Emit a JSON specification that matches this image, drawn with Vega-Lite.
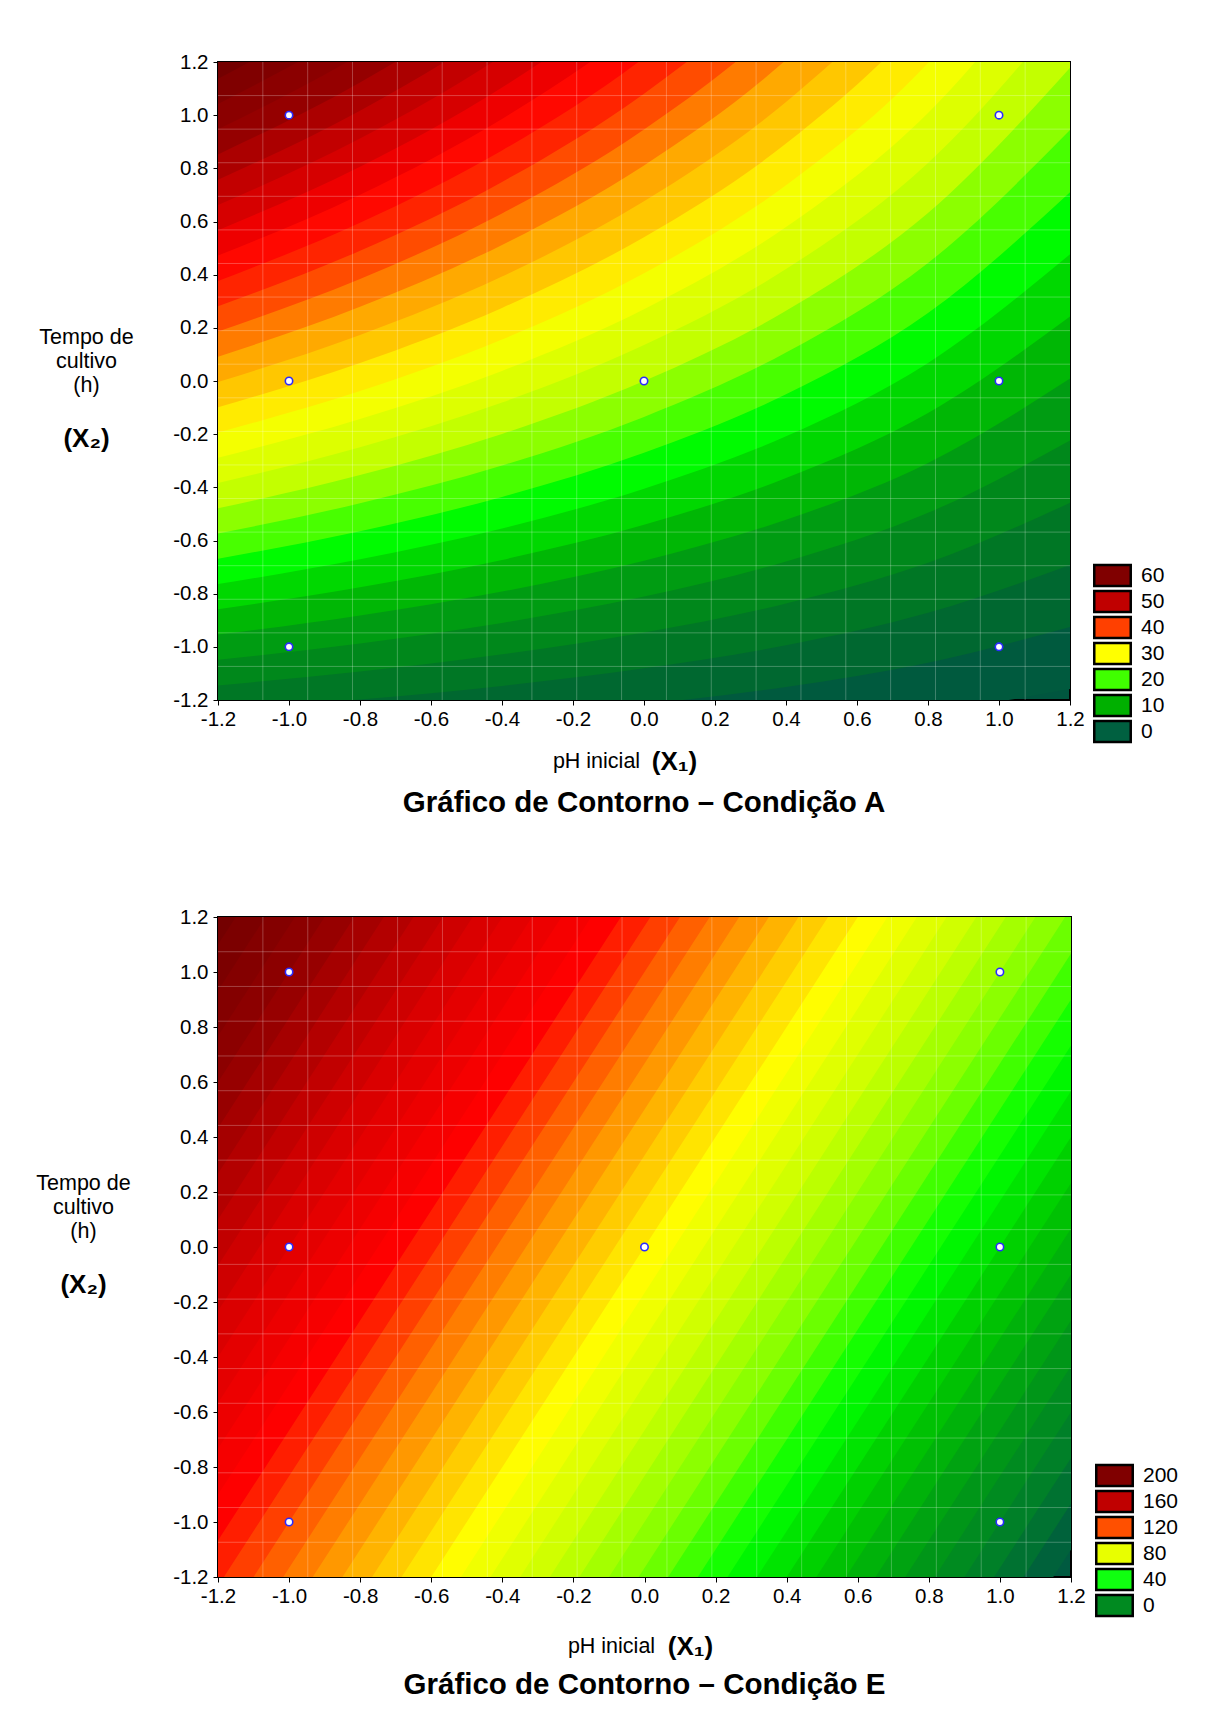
{
 "$schema": "https://vega.github.io/schema/vega-lite/v6.json",
 "background": "white",
 "padding": {"left": 34, "top": 51, "right": 5, "bottom": 5},
 "bounds": "flush",
 "spacing": 217,
 "resolve": {"scale": {"color": "independent", "fill": "independent"}, "legend": {"color": "independent", "fill": "independent"}},
 "config": {
  "font": "Liberation Sans",
  "view": {"stroke": "black", "strokeWidth": 2},
  "axis": {"labelFont": "Liberation Sans", "titleFont": "Liberation Sans", "labelColor": "black", "titleColor": "black", "tickColor": "black", "domain": false, "grid": false, "labelFlush": false, "labelOverlap": false}
 },
 "datasets": {
  "pts": [{"x1":-1,"x2":1},{"x1":1,"x2":1},{"x1":-1,"x2":0},{"x1":0,"x2":0},{"x1":1,"x2":0},{"x1":-1,"x2":-1},{"x1":1,"x2":-1}],
  "mesh": [{"m":-1.0737},{"m":-0.9474},{"m":-0.8211},{"m":-0.6947},{"m":-0.5684},{"m":-0.4421},{"m":-0.3158},{"m":-0.1895},{"m":-0.0632},{"m":0.0632},{"m":0.1895},{"m":0.3158},{"m":0.4421},{"m":0.5684},{"m":0.6947},{"m":0.8211},{"m":0.9474},{"m":1.0737}],
  "legA": [{"k":"60"},{"k":"50"},{"k":"40"},{"k":"30"},{"k":"20"},{"k":"10"},{"k":"0"}],
  "legE": [{"k":"200"},{"k":"160"},{"k":"120"},{"k":"80"},{"k":"40"},{"k":"0"}],
  "contA": [
   {"lev":-2.5,"x1":-1.2,"x2":-1.43},{"lev":-2.5,"x1":-0.8,"x2":-1.409},{"lev":-2.5,"x1":-0.4,"x2":-1.384},{"lev":-2.5,"x1":0,"x2":-1.351},{"lev":-2.5,"x1":0.4,"x2":-1.308},{"lev":-2.5,"x1":0.8,"x2":-1.248},{"lev":-2.5,"x1":1.2,"x2":-1.159},
   {"lev":0,"x1":-1.2,"x2":-1.335},{"lev":0,"x1":-0.8,"x2":-1.304},{"lev":0,"x1":-0.4,"x2":-1.265},{"lev":0,"x1":0,"x2":-1.216},{"lev":0,"x1":0.4,"x2":-1.151},{"lev":0,"x1":0.8,"x2":-1.06},{"lev":0,"x1":1.2,"x2":-0.925},
   {"lev":2.5,"x1":-1.2,"x2":-1.24},{"lev":2.5,"x1":-0.8,"x2":-1.198},{"lev":2.5,"x1":-0.4,"x2":-1.147},{"lev":2.5,"x1":0,"x2":-1.081},{"lev":2.5,"x1":0.4,"x2":-0.994},{"lev":2.5,"x1":0.8,"x2":-0.872},{"lev":2.5,"x1":1.2,"x2":-0.692},
   {"lev":5,"x1":-1.2,"x2":-1.145},{"lev":5,"x1":-0.8,"x2":-1.093},{"lev":5,"x1":-0.4,"x2":-1.028},{"lev":5,"x1":0,"x2":-0.946},{"lev":5,"x1":0.4,"x2":-0.837},{"lev":5,"x1":0.8,"x2":-0.684},{"lev":5,"x1":1.2,"x2":-0.458},
   {"lev":7.5,"x1":-1.2,"x2":-1.049},{"lev":7.5,"x1":-0.8,"x2":-0.987},{"lev":7.5,"x1":-0.4,"x2":-0.91},{"lev":7.5,"x1":0,"x2":-0.811},{"lev":7.5,"x1":0.4,"x2":-0.679},{"lev":7.5,"x1":0.8,"x2":-0.496},{"lev":7.5,"x1":1.2,"x2":-0.224},
   {"lev":10,"x1":-1.2,"x2":-0.954},{"lev":10,"x1":-0.8,"x2":-0.882},{"lev":10,"x1":-0.4,"x2":-0.792},{"lev":10,"x1":0,"x2":-0.676},{"lev":10,"x1":0.4,"x2":-0.522},{"lev":10,"x1":0.8,"x2":-0.308},{"lev":10,"x1":1.2,"x2":0.009},
   {"lev":12.5,"x1":-1.2,"x2":-0.859},{"lev":12.5,"x1":-0.8,"x2":-0.776},{"lev":12.5,"x1":-0.4,"x2":-0.673},{"lev":12.5,"x1":0,"x2":-0.541},{"lev":12.5,"x1":0.4,"x2":-0.365},{"lev":12.5,"x1":0.8,"x2":-0.12},{"lev":12.5,"x1":1.2,"x2":0.243},
   {"lev":15,"x1":-1.2,"x2":-0.764},{"lev":15,"x1":-0.8,"x2":-0.671},{"lev":15,"x1":-0.4,"x2":-0.555},{"lev":15,"x1":0,"x2":-0.405},{"lev":15,"x1":0.4,"x2":-0.208},{"lev":15,"x1":0.8,"x2":0.068},{"lev":15,"x1":1.2,"x2":0.477},
   {"lev":17.5,"x1":-1.2,"x2":-0.669},{"lev":17.5,"x1":-0.8,"x2":-0.565},{"lev":17.5,"x1":-0.4,"x2":-0.436},{"lev":17.5,"x1":0,"x2":-0.27},{"lev":17.5,"x1":0.4,"x2":-0.05},{"lev":17.5,"x1":0.8,"x2":0.256},{"lev":17.5,"x1":1.2,"x2":0.71},
   {"lev":20,"x1":-1.2,"x2":-0.574},{"lev":20,"x1":-0.8,"x2":-0.46},{"lev":20,"x1":-0.4,"x2":-0.318},{"lev":20,"x1":0,"x2":-0.135},{"lev":20,"x1":0.4,"x2":0.107},{"lev":20,"x1":0.8,"x2":0.444},{"lev":20,"x1":1.2,"x2":0.944},
   {"lev":22.5,"x1":-1.2,"x2":-0.479},{"lev":22.5,"x1":-0.8,"x2":-0.354},{"lev":22.5,"x1":-0.4,"x2":-0.199},{"lev":22.5,"x1":0,"x2":0},{"lev":22.5,"x1":0.4,"x2":0.264},{"lev":22.5,"x1":0.8,"x2":0.632},{"lev":22.5,"x1":1.2,"x2":1.178},
   {"lev":25,"x1":-1.2,"x2":-0.384},{"lev":25,"x1":-0.8,"x2":-0.249},{"lev":25,"x1":-0.4,"x2":-0.081},{"lev":25,"x1":0,"x2":0.135},{"lev":25,"x1":0.4,"x2":0.421},{"lev":25,"x1":0.8,"x2":0.82},{"lev":25,"x1":1.2,"x2":1.411},
   {"lev":27.5,"x1":-1.2,"x2":-0.289},{"lev":27.5,"x1":-0.8,"x2":-0.143},{"lev":27.5,"x1":-0.4,"x2":0.038},{"lev":27.5,"x1":0,"x2":0.27},{"lev":27.5,"x1":0.4,"x2":0.579},{"lev":27.5,"x1":0.8,"x2":1.008},{"lev":27.5,"x1":1.2,"x2":1.645},
   {"lev":30,"x1":-1.2,"x2":-0.194},{"lev":30,"x1":-0.8,"x2":-0.038},{"lev":30,"x1":-0.4,"x2":0.156},{"lev":30,"x1":0,"x2":0.405},{"lev":30,"x1":0.4,"x2":0.736},{"lev":30,"x1":0.8,"x2":1.196},{"lev":30,"x1":1.2,"x2":1.879},
   {"lev":32.5,"x1":-1.2,"x2":-0.099},{"lev":32.5,"x1":-0.8,"x2":0.068},{"lev":32.5,"x1":-0.4,"x2":0.275},{"lev":32.5,"x1":0,"x2":0.541},{"lev":32.5,"x1":0.4,"x2":0.893},{"lev":32.5,"x1":0.8,"x2":1.384},{"lev":32.5,"x1":1.2,"x2":2.112},
   {"lev":35,"x1":-1.2,"x2":-0.004},{"lev":35,"x1":-0.8,"x2":0.173},{"lev":35,"x1":-0.4,"x2":0.393},{"lev":35,"x1":0,"x2":0.676},{"lev":35,"x1":0.4,"x2":1.05},{"lev":35,"x1":0.8,"x2":1.571},{"lev":35,"x1":1.2,"x2":2.346},
   {"lev":37.5,"x1":-1.2,"x2":0.091},{"lev":37.5,"x1":-0.8,"x2":0.279},{"lev":37.5,"x1":-0.4,"x2":0.512},{"lev":37.5,"x1":0,"x2":0.811},{"lev":37.5,"x1":0.4,"x2":1.208},{"lev":37.5,"x1":0.8,"x2":1.759},{"lev":37.5,"x1":1.2,"x2":2.579},
   {"lev":40,"x1":-1.2,"x2":0.186},{"lev":40,"x1":-0.8,"x2":0.384},{"lev":40,"x1":-0.4,"x2":0.63},{"lev":40,"x1":0,"x2":0.946},{"lev":40,"x1":0.4,"x2":1.365},{"lev":40,"x1":0.8,"x2":1.947},{"lev":40,"x1":1.2,"x2":2.813},
   {"lev":42.5,"x1":-1.2,"x2":0.281},{"lev":42.5,"x1":-0.8,"x2":0.49},{"lev":42.5,"x1":-0.4,"x2":0.749},{"lev":42.5,"x1":0,"x2":1.081},{"lev":42.5,"x1":0.4,"x2":1.522},{"lev":42.5,"x1":0.8,"x2":2.135},{"lev":42.5,"x1":1.2,"x2":3.047},
   {"lev":45,"x1":-1.2,"x2":0.376},{"lev":45,"x1":-0.8,"x2":0.595},{"lev":45,"x1":-0.4,"x2":0.867},{"lev":45,"x1":0,"x2":1.216},{"lev":45,"x1":0.4,"x2":1.679},{"lev":45,"x1":0.8,"x2":2.323},{"lev":45,"x1":1.2,"x2":3.28},
   {"lev":47.5,"x1":-1.2,"x2":0.472},{"lev":47.5,"x1":-0.8,"x2":0.701},{"lev":47.5,"x1":-0.4,"x2":0.986},{"lev":47.5,"x1":0,"x2":1.351},{"lev":47.5,"x1":0.4,"x2":1.837},{"lev":47.5,"x1":0.8,"x2":2.511},{"lev":47.5,"x1":1.2,"x2":3.514},
   {"lev":50,"x1":-1.2,"x2":0.567},{"lev":50,"x1":-0.8,"x2":0.806},{"lev":50,"x1":-0.4,"x2":1.104},{"lev":50,"x1":0,"x2":1.486},{"lev":50,"x1":0.4,"x2":1.994},{"lev":50,"x1":0.8,"x2":2.699},{"lev":50,"x1":1.2,"x2":3.748},
   {"lev":52.5,"x1":-1.2,"x2":0.662},{"lev":52.5,"x1":-0.8,"x2":0.912},{"lev":52.5,"x1":-0.4,"x2":1.223},{"lev":52.5,"x1":0,"x2":1.622},{"lev":52.5,"x1":0.4,"x2":2.151},{"lev":52.5,"x1":0.8,"x2":2.887},{"lev":52.5,"x1":1.2,"x2":3.981},
   {"lev":55,"x1":-1.2,"x2":0.757},{"lev":55,"x1":-0.8,"x2":1.017},{"lev":55,"x1":-0.4,"x2":1.341},{"lev":55,"x1":0,"x2":1.757},{"lev":55,"x1":0.4,"x2":2.308},{"lev":55,"x1":0.8,"x2":3.075},{"lev":55,"x1":1.2,"x2":4.215},
   {"lev":57.5,"x1":-1.2,"x2":0.852},{"lev":57.5,"x1":-0.8,"x2":1.123},{"lev":57.5,"x1":-0.4,"x2":1.46},{"lev":57.5,"x1":0,"x2":1.892},{"lev":57.5,"x1":0.4,"x2":2.465},{"lev":57.5,"x1":0.8,"x2":3.263},{"lev":57.5,"x1":1.2,"x2":4.449},
   {"lev":60,"x1":-1.2,"x2":0.947},{"lev":60,"x1":-0.8,"x2":1.228},{"lev":60,"x1":-0.4,"x2":1.578},{"lev":60,"x1":0,"x2":2.027},{"lev":60,"x1":0.4,"x2":2.623},{"lev":60,"x1":0.8,"x2":3.451},{"lev":60,"x1":1.2,"x2":4.682},
   {"lev":62.5,"x1":-1.2,"x2":1.042},{"lev":62.5,"x1":-0.8,"x2":1.334},{"lev":62.5,"x1":-0.4,"x2":1.697},{"lev":62.5,"x1":0,"x2":2.162},{"lev":62.5,"x1":0.4,"x2":2.78},{"lev":62.5,"x1":0.8,"x2":3.639},{"lev":62.5,"x1":1.2,"x2":4.916},
   {"lev":65,"x1":-1.2,"x2":1.137},{"lev":65,"x1":-0.8,"x2":1.439},{"lev":65,"x1":-0.4,"x2":1.815},{"lev":65,"x1":0,"x2":2.297},{"lev":65,"x1":0.4,"x2":2.937},{"lev":65,"x1":0.8,"x2":3.827},{"lev":65,"x1":1.2,"x2":5.15}
  ],
  "contE": [
   {"lev":-10,"x1":-1.2,"x2":-5.9},{"lev":-10,"x1":1.2,"x2":-1.1},
   {"lev":-5,"x1":-1.2,"x2":-5.733},{"lev":-5,"x1":1.2,"x2":-0.933},
   {"lev":0,"x1":-1.2,"x2":-5.567},{"lev":0,"x1":1.2,"x2":-0.767},
   {"lev":5,"x1":-1.2,"x2":-5.4},{"lev":5,"x1":1.2,"x2":-0.6},
   {"lev":10,"x1":-1.2,"x2":-5.233},{"lev":10,"x1":1.2,"x2":-0.433},
   {"lev":15,"x1":-1.2,"x2":-5.067},{"lev":15,"x1":1.2,"x2":-0.267},
   {"lev":20,"x1":-1.2,"x2":-4.9},{"lev":20,"x1":1.2,"x2":-0.1},
   {"lev":25,"x1":-1.2,"x2":-4.733},{"lev":25,"x1":1.2,"x2":0.067},
   {"lev":30,"x1":-1.2,"x2":-4.567},{"lev":30,"x1":1.2,"x2":0.233},
   {"lev":35,"x1":-1.2,"x2":-4.4},{"lev":35,"x1":1.2,"x2":0.4},
   {"lev":40,"x1":-1.2,"x2":-4.233},{"lev":40,"x1":1.2,"x2":0.567},
   {"lev":45,"x1":-1.2,"x2":-4.067},{"lev":45,"x1":1.2,"x2":0.733},
   {"lev":50,"x1":-1.2,"x2":-3.9},{"lev":50,"x1":1.2,"x2":0.9},
   {"lev":55,"x1":-1.2,"x2":-3.733},{"lev":55,"x1":1.2,"x2":1.067},
   {"lev":60,"x1":-1.2,"x2":-3.567},{"lev":60,"x1":1.2,"x2":1.233},
   {"lev":65,"x1":-1.2,"x2":-3.4},{"lev":65,"x1":1.2,"x2":1.4},
   {"lev":70,"x1":-1.2,"x2":-3.233},{"lev":70,"x1":1.2,"x2":1.567},
   {"lev":75,"x1":-1.2,"x2":-3.067},{"lev":75,"x1":1.2,"x2":1.733},
   {"lev":80,"x1":-1.2,"x2":-2.9},{"lev":80,"x1":1.2,"x2":1.9},
   {"lev":85,"x1":-1.2,"x2":-2.733},{"lev":85,"x1":1.2,"x2":2.067},
   {"lev":90,"x1":-1.2,"x2":-2.567},{"lev":90,"x1":1.2,"x2":2.233},
   {"lev":95,"x1":-1.2,"x2":-2.4},{"lev":95,"x1":1.2,"x2":2.4},
   {"lev":100,"x1":-1.2,"x2":-2.233},{"lev":100,"x1":1.2,"x2":2.567},
   {"lev":105,"x1":-1.2,"x2":-2.067},{"lev":105,"x1":1.2,"x2":2.733},
   {"lev":110,"x1":-1.2,"x2":-1.9},{"lev":110,"x1":1.2,"x2":2.9},
   {"lev":115,"x1":-1.2,"x2":-1.733},{"lev":115,"x1":1.2,"x2":3.067},
   {"lev":120,"x1":-1.2,"x2":-1.567},{"lev":120,"x1":1.2,"x2":3.233},
   {"lev":125,"x1":-1.2,"x2":-1.4},{"lev":125,"x1":1.2,"x2":3.4},
   {"lev":130,"x1":-1.2,"x2":-1.233},{"lev":130,"x1":1.2,"x2":3.567},
   {"lev":135,"x1":-1.2,"x2":-1.067},{"lev":135,"x1":1.2,"x2":3.733},
   {"lev":140,"x1":-1.2,"x2":-0.9},{"lev":140,"x1":1.2,"x2":3.9},
   {"lev":145,"x1":-1.2,"x2":-0.733},{"lev":145,"x1":1.2,"x2":4.067},
   {"lev":150,"x1":-1.2,"x2":-0.567},{"lev":150,"x1":1.2,"x2":4.233},
   {"lev":155,"x1":-1.2,"x2":-0.4},{"lev":155,"x1":1.2,"x2":4.4},
   {"lev":160,"x1":-1.2,"x2":-0.233},{"lev":160,"x1":1.2,"x2":4.567},
   {"lev":165,"x1":-1.2,"x2":-0.067},{"lev":165,"x1":1.2,"x2":4.733},
   {"lev":170,"x1":-1.2,"x2":0.1},{"lev":170,"x1":1.2,"x2":4.9},
   {"lev":175,"x1":-1.2,"x2":0.267},{"lev":175,"x1":1.2,"x2":5.067},
   {"lev":180,"x1":-1.2,"x2":0.433},{"lev":180,"x1":1.2,"x2":5.233},
   {"lev":185,"x1":-1.2,"x2":0.6},{"lev":185,"x1":1.2,"x2":5.4},
   {"lev":190,"x1":-1.2,"x2":0.767},{"lev":190,"x1":1.2,"x2":5.567},
   {"lev":195,"x1":-1.2,"x2":0.933},{"lev":195,"x1":1.2,"x2":5.733},
   {"lev":200,"x1":-1.2,"x2":1.1},{"lev":200,"x1":1.2,"x2":5.9}
  ]
 },
 "vconcat": [
  {
   "width": 852, "height": 638,
   "view": {"fill": "#00563f", "stroke": "black", "strokeWidth": 2},
   "title": {"text": "Gráfico de Contorno – Condição A", "orient": "bottom", "anchor": "middle", "fontSize": 29.5, "fontWeight": "bold", "font": "Liberation Sans", "color": "black", "offset": 15},
   "resolve": {"axis": {"x": "independent", "y": "independent"}},
   "layer": [
    {
     "data": {"name": "contA"},
     "mark": {"type": "area", "interpolate": "monotone", "clip": true},
     "encoding": {
      "x": {"field": "x1", "type": "quantitative", "scale": {"domain": [-1.2, 1.2], "nice": false, "zero": false},
            "axis": {"orient": "bottom", "values": [-1.2,-1,-0.8,-0.6,-0.4,-0.2,0,0.2,0.4,0.6,0.8,1,1.2], "labelExpr": "replace(format(datum.value,'.1f'),'\u2212','-')", "labelFontSize": 20.5, "labelPadding": 4, "tickSize": 5, "title": "pH inicial", "titleFontSize": 21.5, "titleFontWeight": "normal", "titleX": 378, "titleY": 61, "titleAlign": "center", "titleBaseline": "middle"}},
      "y": {"field": "x2", "type": "quantitative", "stack": null, "scale": {"domain": [-1.2, 1.2], "nice": false, "zero": false},
            "axis": {"orient": "left", "values": [-1.2,-1,-0.8,-0.6,-0.4,-0.2,0,0.2,0.4,0.6,0.8,1,1.2], "labelExpr": "replace(format(datum.value,'.1f'),'\u2212','-')", "labelFontSize": 20.5, "labelPadding": 5, "tickSize": 5, "title": ["Tempo de", "cultivo", "(h)"], "titleFontSize": 21.5, "titleFontWeight": "normal", "titleAngle": 0, "titleX": -132, "titleY": 275, "titleAlign": "center", "titleBaseline": "middle", "titleLineHeight": 24}},
      "y2": {"datum": 1.2},
      "color": {"field": "lev", "type": "quantitative", "legend": null,
                "scale": {"type": "linear", "zero": false, "clamp": true, "interpolate": "rgb",
                          "domain": [-2.5, 0, 4, 7.5, 11, 15.25, 18.75, 22.75, 28.75, 31.75, 35.75, 38.75, 42.75, 45.75, 49.75, 53.75, 56.75, 60.75, 65],
                          "range": ["#005a3e","#006830","#00801f","#009c12","#00c200","#00ff00","#70ff00","#c8ff00","#ffff00","#ffd000","#ffa000","#ff6000","#ff2000","#ff0000","#d80000","#b80000","#980000","#880000","#740000"]}}
     }
    },
    {
     "data": {"name": "mesh"},
     "mark": {"type": "rule", "color": "white", "strokeWidth": 1, "opacity": 0.25},
     "encoding": {"x": {"field": "m", "type": "quantitative", "scale": {"domain": [-1.2, 1.2], "nice": false, "zero": false}, "axis": null}}
    },
    {
     "data": {"name": "mesh"},
     "mark": {"type": "rule", "color": "white", "strokeWidth": 1, "opacity": 0.25},
     "encoding": {"y": {"field": "m", "type": "quantitative", "scale": {"domain": [-1.2, 1.2], "nice": false, "zero": false}, "axis": null}}
    },
    {
     "data": {"name": "pts"},
     "mark": {"type": "point", "shape": "circle", "filled": true, "fill": "white", "stroke": "#2a2aff", "strokeWidth": 1.6, "size": 55, "opacity": 1},
     "encoding": {
      "x": {"field": "x1", "type": "quantitative", "scale": {"domain": [-1.2, 1.2], "nice": false, "zero": false},
            "axis": {"orient": "top", "values": [-1.2,-1,-0.8,-0.6,-0.4,-0.2,0,0.2,0.4,0.6,0.8,1,1.2], "labels": false, "tickSize": -5, "title": "(X\u2081)", "titleFontSize": 26, "titleFontWeight": "bold", "titleX": 456, "titleY": 699, "titleAlign": "center", "titleBaseline": "middle"}},
      "y": {"field": "x2", "type": "quantitative", "scale": {"domain": [-1.2, 1.2], "nice": false, "zero": false},
            "axis": {"orient": "right", "values": [-1.2,-1,-0.8,-0.6,-0.4,-0.2,0,0.2,0.4,0.6,0.8,1,1.2], "labels": false, "tickSize": -5, "title": "(X\u2082)", "titleFontSize": 26, "titleFontWeight": "bold", "titleAngle": 0, "titleX": -984, "titleY": 376, "titleAlign": "center", "titleBaseline": "middle"}}
     }
    },
    {
     "data": {"name": "legA"},
     "transform": [{"filter": "false"}],
     "mark": {"type": "square"},
     "encoding": {
      "fill": {"field": "k", "type": "nominal",
               "scale": {"domain": ["60","50","40","30","20","10","0"], "range": ["#800000","#c00000","#ff4000","#ffff00","#40ff00","#00b000","#006040"]},
               "legend": {"orient": "none", "legendX": 884, "legendY": 503, "title": null, "padding": 0, "symbolType": "M-2.28,-1.31H2.28V1.31H-2.28Z", "symbolSize": 256, "symbolStrokeColor": "black", "symbolStrokeWidth": 2.5, "symbolOpacity": 1, "rowPadding": -7, "labelFontSize": 21, "labelFont": "Liberation Sans", "labelColor": "black", "labelOffset": 18}}
     }
    }
   ]
  },
  {
   "width": 853, "height": 660,
   "view": {"fill": "#005a40", "stroke": "black", "strokeWidth": 2},
   "title": {"text": "Gráfico de Contorno – Condição E", "orient": "bottom", "anchor": "middle", "fontSize": 29.5, "fontWeight": "bold", "font": "Liberation Sans", "color": "black", "offset": 12},
   "resolve": {"axis": {"x": "independent", "y": "independent"}},
   "layer": [
    {
     "data": {"name": "contE"},
     "mark": {"type": "area", "interpolate": "linear", "clip": true},
     "encoding": {
      "x": {"field": "x1", "type": "quantitative", "scale": {"domain": [-1.2, 1.2], "nice": false, "zero": false},
            "axis": {"orient": "bottom", "values": [-1.2,-1,-0.8,-0.6,-0.4,-0.2,0,0.2,0.4,0.6,0.8,1,1.2], "labelExpr": "replace(format(datum.value,'.1f'),'\u2212','-')", "labelFontSize": 20.5, "labelPadding": 4, "tickSize": 5, "title": "pH inicial", "titleFontSize": 21.5, "titleFontWeight": "normal", "titleX": 393, "titleY": 69, "titleAlign": "center", "titleBaseline": "middle"}},
      "y": {"field": "x2", "type": "quantitative", "stack": null, "scale": {"domain": [-1.2, 1.2], "nice": false, "zero": false},
            "axis": {"orient": "left", "values": [-1.2,-1,-0.8,-0.6,-0.4,-0.2,0,0.2,0.4,0.6,0.8,1,1.2], "labelExpr": "replace(format(datum.value,'.1f'),'\u2212','-')", "labelFontSize": 20.5, "labelPadding": 5, "tickSize": 5, "title": ["Tempo de", "cultivo", "(h)"], "titleFontSize": 21.5, "titleFontWeight": "normal", "titleAngle": 0, "titleX": -135, "titleY": 266, "titleAlign": "center", "titleBaseline": "middle", "titleLineHeight": 24}},
      "y2": {"datum": 1.2},
      "color": {"field": "lev", "type": "quantitative", "legend": null,
                "scale": {"type": "linear", "zero": false, "clamp": true, "interpolate": "rgb",
                          "domain": [-12.5, -2.5, 12.5, 27.5, 42.5, 57.5, 72.5, 89.5, 102.5, 117.5, 134.5, 152.5, 162.5, 182.5, 202.5],
                          "range": ["#005a40","#007a2c","#009c14","#00c800","#00ff00","#80ff00","#c8ff00","#ffff00","#ffc000","#ff7000","#ff0000","#e00000","#c80000","#900000","#700000"]}}
     }
    },
    {
     "data": {"name": "mesh"},
     "mark": {"type": "rule", "color": "white", "strokeWidth": 1, "opacity": 0.25},
     "encoding": {"x": {"field": "m", "type": "quantitative", "scale": {"domain": [-1.2, 1.2], "nice": false, "zero": false}, "axis": null}}
    },
    {
     "data": {"name": "mesh"},
     "mark": {"type": "rule", "color": "white", "strokeWidth": 1, "opacity": 0.25},
     "encoding": {"y": {"field": "m", "type": "quantitative", "scale": {"domain": [-1.2, 1.2], "nice": false, "zero": false}, "axis": null}}
    },
    {
     "data": {"name": "pts"},
     "mark": {"type": "point", "shape": "circle", "filled": true, "fill": "white", "stroke": "#2a2aff", "strokeWidth": 1.6, "size": 55, "opacity": 1},
     "encoding": {
      "x": {"field": "x1", "type": "quantitative", "scale": {"domain": [-1.2, 1.2], "nice": false, "zero": false},
            "axis": {"orient": "top", "values": [-1.2,-1,-0.8,-0.6,-0.4,-0.2,0,0.2,0.4,0.6,0.8,1,1.2], "labels": false, "tickSize": -5, "title": "(X\u2081)", "titleFontSize": 26, "titleFontWeight": "bold", "titleX": 472, "titleY": 729, "titleAlign": "center", "titleBaseline": "middle"}},
      "y": {"field": "x2", "type": "quantitative", "scale": {"domain": [-1.2, 1.2], "nice": false, "zero": false},
            "axis": {"orient": "right", "values": [-1.2,-1,-0.8,-0.6,-0.4,-0.2,0,0.2,0.4,0.6,0.8,1,1.2], "labels": false, "tickSize": -5, "title": "(X\u2082)", "titleFontSize": 26, "titleFontWeight": "bold", "titleAngle": 0, "titleX": -988, "titleY": 367, "titleAlign": "center", "titleBaseline": "middle"}}
     }
    },
    {
     "data": {"name": "legE"},
     "transform": [{"filter": "false"}],
     "mark": {"type": "square"},
     "encoding": {
      "fill": {"field": "k", "type": "nominal",
               "scale": {"domain": ["200","160","120","80","40","0"], "range": ["#800000","#c00000","#ff5000","#e8ff00","#10ff10","#008a20"]},
               "legend": {"orient": "none", "legendX": 886, "legendY": 548, "title": null, "padding": 0, "symbolType": "M-2.28,-1.31H2.28V1.31H-2.28Z", "symbolSize": 256, "symbolStrokeColor": "black", "symbolStrokeWidth": 2.5, "symbolOpacity": 1, "rowPadding": -6.3, "labelFontSize": 21, "labelFont": "Liberation Sans", "labelColor": "black", "labelOffset": 18}}
     }
    }
   ]
  }
 ]
}
